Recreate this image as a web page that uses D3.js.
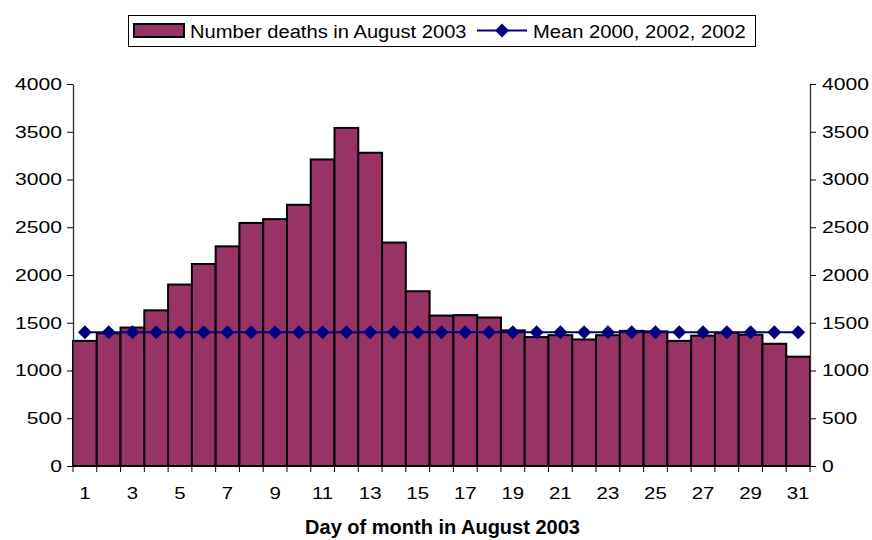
<!DOCTYPE html>
<html><head><meta charset="utf-8">
<script src="https://cdn.jsdelivr.net/npm/d3@7"></script>
<style>body{margin:0;background:#fff}svg{display:block}text{font-family:"Liberation Sans",Arial,sans-serif}</style>
</head><body><svg id="c" width="872" height="540"></svg>
<script>
const days = d3.range(1, 32);
const deaths = [1310,1390,1450,1630,1900,2115,2300,2545,2585,2735,3210,3540,3280,2340,1830,1575,1580,1555,1420,1350,1370,1325,1370,1415,1410,1310,1365,1395,1375,1280,1145];
const meanVals = days.map(() => 1400);
const yTicks = [0,500,1000,1500,2000,2500,3000,3500,4000];
const xLabelDays = days.filter(d => d % 2 === 1);
const barLabel = "Number deaths in August 2003";
const lineLabel = "Mean 2000, 2002, 2002";
const xTitle = "Day of month in August 2003";

const svg = d3.select("#c");
const L = 73, R = 810, T = 84, B = 466;
const x = d3.scaleBand().domain(days).range([L, R]).padding(0);
const y = d3.scaleLinear().domain([0, 4000]).range([B, T]);

function stretch(sel, k) {
  sel.each(function() {
    const w = this.getComputedTextLength();
    d3.select(this).attr("textLength", w * k).attr("lengthAdjust", "spacingAndGlyphs");
  });
}

// bars
svg.append("g").selectAll("rect").data(days).join("rect")
  .attr("x", d => x(d)).attr("y", (d,i) => y(deaths[i]))
  .attr("width", x.bandwidth()).attr("height", (d,i) => B - y(deaths[i]))
  .attr("fill", "#993366").attr("stroke", "#000").attr("stroke-width", 2);

// y axes
const yl = svg.append("g").attr("transform", `translate(${L},0)`)
  .call(d3.axisLeft(y).tickValues(yTicks).tickFormat(d3.format("d")).tickSize(6).tickPadding(5).tickSizeOuter(0));
const yr = svg.append("g").attr("transform", `translate(${R},0)`)
  .call(d3.axisRight(y).tickValues(yTicks).tickFormat(d3.format("d")).tickSize(6).tickPadding(6).tickSizeOuter(0));
[yl, yr].forEach(g => {
  g.select(".domain").attr("stroke", "#333").attr("stroke-width", 1.3);
  g.selectAll(".tick line").attr("stroke", "#000");
  g.selectAll("text").attr("font-size", 17).attr("fill", "#000").style("font-family", "Liberation Sans, Arial, sans-serif");
  stretch(g.selectAll("text"), 1.24);
});

// x axis: ticks at band boundaries
const xa = svg.append("g");
xa.append("line").attr("x1", L).attr("x2", R).attr("y1", B).attr("y2", B).attr("stroke", "#000").attr("stroke-width", 2);
const bounds = days.map(d => x(d)).concat([R]);
xa.selectAll("line.t").data(bounds).join("line").attr("class","t")
  .attr("x1", d => d).attr("x2", d => d).attr("y1", B).attr("y2", B + 6).attr("stroke", "#000");
const xl = xa.selectAll("text").data(xLabelDays).join("text")
  .attr("x", d => x(d) + x.bandwidth()/2).attr("y", 499)
  .attr("text-anchor", "middle").attr("font-size", 17).text(d => d);
stretch(xl, 1.2);
svg.append("text").attr("x", (L+R)/2 + 1).attr("y", 534).attr("text-anchor","middle")
  .attr("font-size", 20).attr("font-weight","bold").text(xTitle);

// mean line
const cx = d => x(d) + x.bandwidth()/2;
svg.append("path").datum(days)
  .attr("d", d3.line().x(d => cx(d)).y((d,i) => y(meanVals[i])))
  .attr("fill","none").attr("stroke","#000080").attr("stroke-width",2);
svg.append("g").selectAll("path").data(days).join("path")
  .attr("transform", (d,i) => `translate(${cx(d)},${y(meanVals[i])})`)
  .attr("d", "M0,-7L7,0L0,7L-7,0Z").attr("fill","#000080");

// legend
const lg = svg.append("g");
lg.append("rect").attr("x",128.5).attr("y",15.5).attr("width",627).attr("height",31)
  .attr("fill","#fff").attr("stroke","#000").attr("stroke-width",1);
lg.append("rect").attr("x",134).attr("y",24).attr("width",50).attr("height",13)
  .attr("fill","#993366").attr("stroke","#000").attr("stroke-width",2);
const t1 = lg.append("text").attr("x",190).attr("y",37.5).attr("font-size",19).text(barLabel);
lg.append("line").attr("x1",477).attr("x2",527).attr("y1",30.5).attr("y2",30.5).attr("stroke","#000080").attr("stroke-width",2);
lg.append("path").attr("transform","translate(502,30.5)").attr("d","M0,-7L7,0L0,7L-7,0Z").attr("fill","#000080");
const t2 = lg.append("text").attr("x",533).attr("y",37.5).attr("font-size",19).text(lineLabel);
stretch(t1, 1.06); stretch(t2, 1.06);
</script></body></html>
